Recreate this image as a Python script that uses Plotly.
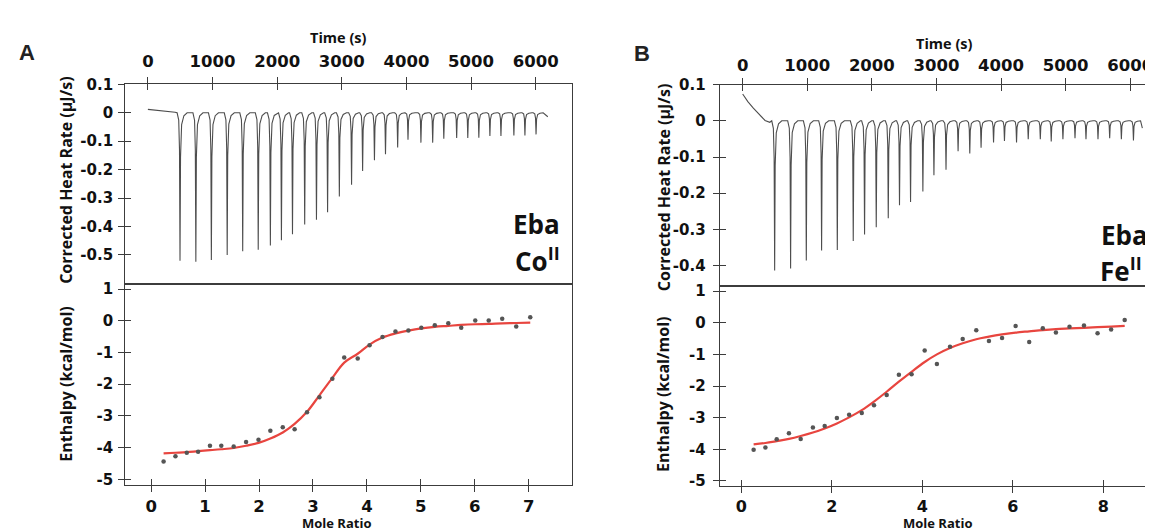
import plotly.graph_objects as go

W, H = 1153, 531

# ---------------- data: panel A (Eba / Co II) ----------------
inj_time_A = [497, 742, 982, 1227, 1467, 1707, 1895, 2066, 2237, 2426, 2608, 2780, 2962, 3151, 3322,
              3505, 3676, 3864, 4024, 4224, 4406, 4578, 4777, 4949, 5120, 5291, 5462, 5662, 5833, 6005]
peak_A = [-0.52, -0.524, -0.518, -0.50, -0.487, -0.482, -0.467, -0.448, -0.427, -0.393, -0.376, -0.35,
          -0.294, -0.253, -0.205, -0.167, -0.146, -0.122, -0.095, -0.105, -0.105, -0.091, -0.089, -0.089,
          -0.088, -0.082, -0.082, -0.08, -0.08, -0.076]
start_t_A = [0, 100, 200, 300, 420]
start_v_A = [0.012, 0.010, 0.007, 0.004, 0.002]
end_t_A, end_v_A = 6187, -0.014

mr_A = [0.23, 0.45, 0.66, 0.87, 1.09, 1.30, 1.53, 1.76, 1.99, 2.21, 2.44, 2.66, 2.89, 3.12, 3.36,
        3.58, 3.83, 4.05, 4.29, 4.53, 4.77, 5.01, 5.26, 5.51, 5.75, 6.01, 6.26, 6.51, 6.77, 7.03]
dh_A = [-4.44, -4.27, -4.16, -4.13, -3.94, -3.94, -3.96, -3.82, -3.75, -3.47, -3.36, -3.42, -2.88, -2.41,
        -1.83, -1.16, -1.19, -0.77, -0.51, -0.34, -0.31, -0.22, -0.14, -0.08, -0.22, 0.01, 0.01, 0.06,
        -0.18, 0.11]
fit_A = [-4.18, -4.16, -4.14, -4.11, -4.08, -4.05, -4.01, -3.94, -3.85, -3.71, -3.52, -3.25, -2.87, -2.35,
         -1.80, -1.32, -1.04, -0.75, -0.53, -0.40, -0.31, -0.24, -0.19, -0.16, -0.13, -0.11, -0.10, -0.08,
         -0.07, -0.06]

# ---------------- data: panel B (Eba / Fe II) ----------------
inj_time_B = [495, 742, 985, 1222, 1465, 1712, 1887, 2068, 2254, 2428, 2599, 2790, 2961, 3148, 3335,
              3516, 3691, 3884, 4053, 4240, 4421, 4608, 4777, 4958, 5145, 5315, 5501, 5682, 5863, 6050]
peak_B = [-0.413, -0.408, -0.386, -0.358, -0.357, -0.332, -0.314, -0.294, -0.269, -0.233, -0.224, -0.195,
          -0.15, -0.135, -0.084, -0.09, -0.074, -0.06, -0.056, -0.06, -0.051, -0.051, -0.057, -0.051,
          -0.048, -0.051, -0.051, -0.048, -0.051, -0.054]
start_t_B = [0, 80, 165, 230, 294, 346, 420]
start_v_B = [0.074, 0.053, 0.035, 0.022, 0.012, 0.001, -0.004]
end_t_B, end_v_B = 6188, -0.02

mr_B = [0.27, 0.53, 0.78, 1.05, 1.31, 1.58, 1.84, 2.11, 2.38, 2.66, 2.93, 3.21, 3.48, 3.76, 4.05,
        4.32, 4.61, 4.89, 5.19, 5.47, 5.76, 6.06, 6.36, 6.66, 6.95, 7.25, 7.57, 7.87, 8.17, 8.47]
dh_B = [-4.01, -3.94, -3.68, -3.49, -3.67, -3.31, -3.26, -3.01, -2.91, -2.85, -2.61, -2.28, -1.64, -1.63,
        -0.88, -1.30, -0.76, -0.51, -0.24, -0.58, -0.48, -0.10, -0.61, -0.17, -0.31, -0.13, -0.09, -0.33,
        -0.21, 0.09]
fit_B = [-3.84, -3.80, -3.74, -3.67, -3.58, -3.47, -3.34, -3.18, -2.99, -2.76, -2.49, -2.18, -1.86, -1.55,
         -1.24, -1.00, -0.80, -0.65, -0.52, -0.44, -0.37, -0.31, -0.27, -0.23, -0.20, -0.18, -0.16, -0.14,
         -0.12, -0.10]

time_ticks = [0, 1000, 2000, 3000, 4000, 5000, 6000]
heat_ticks_A = [0.1, 0, -0.1, -0.2, -0.3, -0.4, -0.5]
heat_ticks_B = [0.1, 0, -0.1, -0.2, -0.3, -0.4]
enth_ticks = [1, 0, -1, -2, -3, -4, -5]
mr_ticks_A = [0, 1, 2, 3, 4, 5, 6, 7]
mr_ticks_B = [0, 2, 4, 6, 8]

# spike drawing template (style): time offsets and fraction of the peak depth
SPIKE_OFF = [-45, -20, -8, 0, 8, 25, 60, 110]
SPIKE_FRAC = [0, 0.05, 0.25, 1.0, 0.3, 0.08, 0.02, 0]


def thermogram(t_inj, depth, st, sv, et, ev):
    xs, ys = list(st), list(sv)
    for t, d in zip(t_inj, depth):
        for o, f in zip(SPIKE_OFF, SPIKE_FRAC):
            xs.append(t + o)
            ys.append(d * f)
    xs.append(et)
    ys.append(ev)
    return xs, ys


def labels(vals):
    return [f"{v:g}" for v in vals]


def fx(px):
    return px / W


def fy(py):
    return 1 - py / H


LINE = "#3c3c3c"
TRACE = "#4d4d4d"
RED = "#e8453f"
DOT = "#555555"
TICKFONT_X = dict(family="DejaVu Sans", size=16.5, color="#111", weight="bold")
TICKFONT_XB = dict(family="DejaVu Sans", size=16, color="#111", weight="bold")
TICKFONT_Y = dict(family="DejaVu Sans", size=15, color="#111", weight="bold")
TITLEFONT = dict(family="Open Sans", size=14.5, color="#111", weight="bold")
MRFONT = dict(family="Open Sans", size=13, color="#111", weight="bold")
VTITLEFONT = dict(family="Open Sans", size=16, color="#111", weight="bold")

fig = go.Figure()

xA_top, yA_top = thermogram(inj_time_A, peak_A, start_t_A, start_v_A, end_t_A, end_v_A)
xB_top, yB_top = thermogram(inj_time_B, peak_B, start_t_B, start_v_B, end_t_B, end_v_B)

fig.add_trace(go.Scatter(x=xA_top, y=yA_top, mode="lines", line=dict(color=TRACE, width=1.1),
                         xaxis="x", yaxis="y", showlegend=False))
fig.add_trace(go.Scatter(x=mr_A, y=fit_A, mode="lines", line=dict(color=RED, width=2.2, shape="spline"),
                         xaxis="x2", yaxis="y2", showlegend=False))
fig.add_trace(go.Scatter(x=mr_A, y=dh_A, mode="markers", marker=dict(color=DOT, size=4.5),
                         xaxis="x2", yaxis="y2", showlegend=False))
fig.add_trace(go.Scatter(x=xB_top, y=yB_top, mode="lines", line=dict(color=TRACE, width=1.1),
                         xaxis="x3", yaxis="y3", showlegend=False))
fig.add_trace(go.Scatter(x=mr_B, y=fit_B, mode="lines", line=dict(color=RED, width=2.2, shape="spline"),
                         xaxis="x4", yaxis="y4", showlegend=False))
fig.add_trace(go.Scatter(x=mr_B, y=dh_B, mode="markers", marker=dict(color=DOT, size=4.5),
                         xaxis="x4", yaxis="y4", showlegend=False))

# geometry (pixels)
A_x = (117.3, 564.8)
B_x = (712.3, 1153)
A_top = (69, 274)
A_bot = (274, 480)
B_top = (69.3, 275.7)
B_bot = (275.7, 480.5)

ranges = {
    "x": [-351, 6566], "y": [-0.603, 0.1],
    "x2": [-0.482, 7.81], "y2": [-5.185, 1.15],
    "x3": [-356, 6461], "y3": [-0.456, 0.1],
    "x4": [-0.48, 9.25], "y4": [-5.15, 1.163],
}

common = dict(showline=True, linecolor=LINE, linewidth=1.2, mirror=True, showgrid=False,
              zeroline=False, ticks="outside", ticklen=6, tickwidth=1.2, tickcolor=LINE)

layout = dict(
    width=W, height=H, margin=dict(l=0, r=0, t=0, b=0),
    paper_bgcolor="white", plot_bgcolor="white", showlegend=False,
    xaxis=dict(common, domain=[fx(A_x[0]), fx(A_x[1])], range=ranges["x"], anchor="y", side="top",
               tickvals=time_ticks, tickfont=TICKFONT_X, ticklabelstandoff=4),
    yaxis=dict(common, domain=[fy(A_top[1]), fy(A_top[0])], range=ranges["y"], anchor="x",
               tickvals=heat_ticks_A, ticktext=labels(heat_ticks_A), tickfont=TICKFONT_Y,
               ticklabelstandoff=2),
    xaxis2=dict(common, domain=[fx(A_x[0]), fx(A_x[1])], range=ranges["x2"], anchor="y2", side="bottom",
                tickvals=mr_ticks_A, tickfont=TICKFONT_X, ticklabelstandoff=0),
    yaxis2=dict(common, domain=[fy(A_bot[1]), fy(A_bot[0])], range=ranges["y2"], anchor="x2",
                tickvals=enth_ticks, ticktext=labels(enth_ticks), tickfont=TICKFONT_Y, ticklabelstandoff=2),
    xaxis3=dict(common, domain=[fx(B_x[0]), 1.0], range=ranges["x3"], anchor="y3", side="top",
                tickvals=time_ticks, tickfont=TICKFONT_X, ticklabelstandoff=0),
    yaxis3=dict(common, domain=[fy(B_top[1]), fy(B_top[0])], range=ranges["y3"], anchor="x3",
                tickvals=heat_ticks_B, ticktext=labels(heat_ticks_B), tickfont=TICKFONT_Y,
                ticklabelstandoff=4),
    xaxis4=dict(common, domain=[fx(B_x[0]), 1.0], range=ranges["x4"], anchor="y4", side="bottom",
                tickvals=mr_ticks_B, tickfont=TICKFONT_XB, ticklabelstandoff=0),
    yaxis4=dict(common, domain=[fy(B_bot[1]), fy(B_bot[0])], range=ranges["y4"], anchor="x4",
                tickvals=enth_ticks, ticktext=labels(enth_ticks), tickfont=TICKFONT_Y, ticklabelstandoff=4),
)

# overlay axes drawing the inner half of each tick (ticks cross the axis line)
inner = dict(showline=False, showgrid=False, zeroline=False, ticks="inside", ticklen=6, tickwidth=1.2,
             tickcolor=LINE, showticklabels=False)
pairs = [("x", "y", time_ticks, heat_ticks_A, "top"),
         ("x2", "y2", mr_ticks_A, enth_ticks, "bottom"),
         ("x3", "y3", time_ticks, heat_ticks_B, "top"),
         ("x4", "y4", mr_ticks_B, enth_ticks, "bottom")]
n = 5
for xa, ya, xt, yt, side in pairs:
    xo, yo = f"x{n}", f"y{n}"
    layout[f"xaxis{n}"] = dict(inner, overlaying=xa, anchor=ya, side=side, range=ranges[xa], tickvals=xt)
    layout[f"yaxis{n}"] = dict(inner, overlaying=ya, anchor=xa, side="left", range=ranges[ya], tickvals=yt)
    fig.add_trace(go.Scatter(x=[None], y=[None], xaxis=xo, yaxis=ya, showlegend=False, hoverinfo="skip"))
    fig.add_trace(go.Scatter(x=[None], y=[None], xaxis=xa, yaxis=yo, showlegend=False, hoverinfo="skip"))
    n += 1

annotations = []


def text(x, y, s, font, angle=0, xanchor="center", align="center"):
    annotations.append(dict(x=fx(x), y=fy(y), xref="paper", yref="paper", text=s, showarrow=False,
                            font=font, textangle=angle, xanchor=xanchor, yanchor="middle", align=align,
                            borderpad=0))


text(331, 21, "Time (s)", TITLEFONT)
text(937, 27, "Time (s)", TITLEFONT)
text(329, 518.5, "Mole Ratio", MRFONT)
text(930, 519, "Mole Ratio", MRFONT)
text(58, 167, "Corrected Heat Rate (µJ/s)", VTITLEFONT, angle=-90)
text(58, 376, "Enthalpy (kcal/mol)", VTITLEFONT, angle=-90)
text(656, 174, "Corrected Heat Rate (µJ/s)", VTITLEFONT, angle=-90)
text(655, 386, "Enthalpy (kcal/mol)", VTITLEFONT, angle=-90)

BIG = dict(family="Open Sans", size=26, color="#111", weight="bold")
text(553, 212, "Eba", BIG, xanchor="right", align="right")
text(553, 249, "Co<sup>II</sup>", BIG, xanchor="right", align="right")
text(1142, 223, "Eba", BIG, xanchor="right", align="right")
text(1136, 259, "Fe<sup>II</sup>", BIG, xanchor="right", align="right")

PANEL = dict(family="Liberation Sans", size=22, color="#222", weight="bold")
text(19, 36, "A", PANEL)
text(635, 37, "B", PANEL)

layout["annotations"] = annotations
fig.update_layout(layout)
fig.write_html("out.html")
